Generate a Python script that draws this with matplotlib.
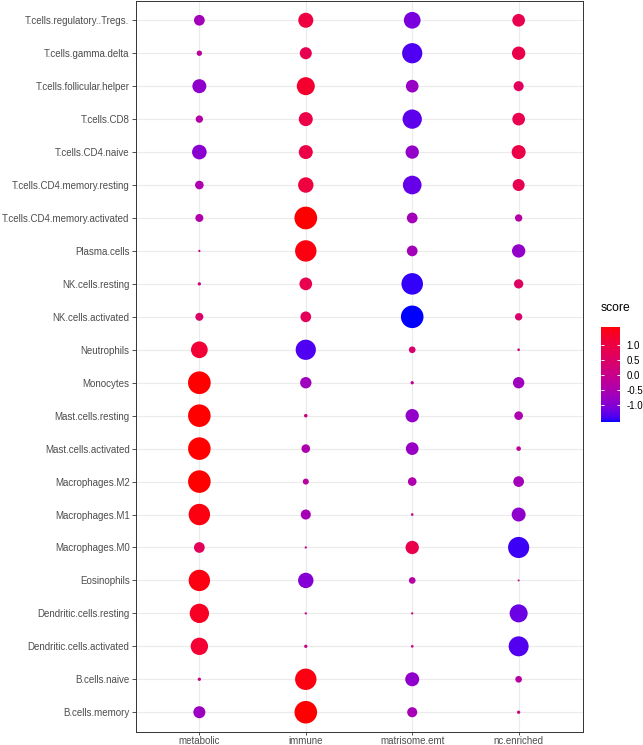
import numpy as np
import matplotlib
matplotlib.use("Agg")
import matplotlib.pyplot as plt
from matplotlib.colors import ListedColormap, Normalize

plt.rcParams['font.family'] = ['Liberation Sans', 'DejaVu Sans']

# gene set columns
signatures = ["metabolic", "immune", "matrisome.emt", "nc.enriched"]

# cell types, top row first (as shown)
cell_types = [
    "T.cells.regulatory..Tregs.", "T.cells.gamma.delta", "T.cells.follicular.helper",
    "T.cells.CD8", "T.cells.CD4.naive", "T.cells.CD4.memory.resting",
    "T.cells.CD4.memory.activated", "Plasma.cells", "NK.cells.resting",
    "NK.cells.activated", "Neutrophils", "Monocytes", "Mast.cells.resting",
    "Mast.cells.activated", "Macrophages.M2", "Macrophages.M1", "Macrophages.M0",
    "Eosinophils", "Dendritic.cells.resting", "Dendritic.cells.activated",
    "B.cells.naive", "B.cells.memory",
]

# scores per signature, same row order as cell_types
metabolic = [-0.67, -0.26, -0.92, -0.41, -0.97, -0.51, -0.46, 0.02, 0.10, 0.46, 1.13,
             1.59, 1.58, 1.58, 1.58, 1.49, 0.67, 1.49, 1.33, 1.18, 0.10, -0.77]
immune = [1.00, 0.77, 1.23, 0.92, 0.92, 1.03, 1.59, 1.49, 0.82, 0.67, -1.40,
          -0.72, 0.12, -0.51, -0.31, -0.62, 0.02, -1.03, 0.02, 0.10, 1.49, 1.58]
matrisome_emt = [-1.13, -1.40, -0.82, -1.33, -0.87, -1.28, -0.67, -0.67, -1.50, -1.58, 0.36,
                 -0.10, -0.87, -0.82, -0.51, -0.05, 0.87, -0.36, 0.02, 0.05, -0.92, -0.62]
nc_enriched = [0.82, 0.87, 0.62, 0.82, 0.92, 0.77, -0.41, -0.87, 0.56, 0.41, 0.05,
               -0.72, -0.51, -0.20, -0.67, -0.92, -1.47, 0.00, -1.23, -1.38, -0.36, 0.10]

columns = [metabolic, immune, matrisome_emt, nc_enriched]


def srgb_to_lab(rgb):
    rgb = np.asarray(rgb, float)
    lin = np.where(rgb <= 0.04045, rgb / 12.92, ((rgb + 0.055) / 1.055) ** 2.4)
    m = np.array([[0.4124, 0.3576, 0.1805],
                  [0.2126, 0.7152, 0.0722],
                  [0.0193, 0.1192, 0.9505]])
    xyz = m @ lin / np.array([0.95047, 1.0, 1.08883])
    f = np.where(xyz > 0.008856, np.cbrt(xyz), 7.787 * xyz + 16 / 116)
    return np.array([116 * f[1] - 16, 500 * (f[0] - f[1]), 200 * (f[1] - f[2])])


def lab_to_srgb(lab):
    L, a, b = lab
    fy = (L + 16) / 116
    f = np.array([fy + a / 500, fy, fy - b / 200])
    xyz = np.where(f ** 3 > 0.008856, f ** 3, (f - 16 / 116) / 7.787)
    xyz = xyz * np.array([0.95047, 1.0, 1.08883])
    m = np.array([[3.2406, -1.5372, -0.4986],
                  [-0.9689, 1.8758, 0.0415],
                  [0.0557, -0.2040, 1.0570]])
    lin = np.clip(m @ xyz, 0, 1)
    rgb = np.where(lin <= 0.0031308, 12.92 * lin, 1.055 * lin ** (1 / 2.4) - 0.055)
    return np.clip(rgb, 0, 1)


# blue -> red gradient interpolated in Lab, like ggplot's scale_colour_gradient
lab_lo = srgb_to_lab([0, 0, 1])
lab_hi = srgb_to_lab([1, 0, 0])
cmap = ListedColormap([lab_to_srgb(lab_lo + t * (lab_hi - lab_lo)) for t in np.linspace(0, 1, 256)])

all_scores = np.array(columns)
norm = Normalize(vmin=all_scores.min(), vmax=all_scores.max())

W, H = 643, 745
fig = plt.figure(figsize=(W / 100, H / 100), dpi=100)
ax = fig.add_axes([135.5 / W, 13 / H, 447 / W, 731.5 / H])

n = len(cell_types)
ypos = np.arange(n)[::-1]

# point diameter grows linearly with |score|
mag = np.abs(all_scores)
d_min, d_max = 2.0 * 0.72, 22.7 * 0.72
for j, vals in enumerate(columns):
    vals = np.array(vals)
    d = d_min + (d_max - d_min) * (np.abs(vals) - mag.min()) / (mag.max() - mag.min())
    ax.scatter(np.full(n, j), ypos, s=d ** 2, c=vals, cmap=cmap, norm=norm,
               linewidths=0, zorder=3)

ax.set_xlim(-0.6, len(signatures) - 0.4)
ax.set_ylim(-0.6, n - 0.4)
ax.set_xticks(range(len(signatures)))
ax.set_xticklabels(signatures)
ax.set_yticks(ypos)
ax.set_yticklabels(cell_types)
ax.grid(True, color='#EBEBEB', linewidth=0.8, zorder=0)
ax.set_axisbelow(True)
for sp in ax.spines.values():
    sp.set_color('#333333')
    sp.set_linewidth(0.7)
ax.tick_params(axis='both', length=2.8, width=0.6, color='#333333',
               labelcolor='#4D4D4D', labelsize=7, pad=1.5)
ax.tick_params(axis='x', length=2.2, pad=0.6)

# colour bar legend
cax = fig.add_axes([601 / W, (H - 422.3) / H, 19 / W, 95 / H])
grad = np.linspace(norm.vmin, norm.vmax, 200).reshape(-1, 1)
cax.imshow(grad, cmap=cmap, norm=norm, aspect='auto', origin='lower',
           extent=[0, 1, norm.vmin, norm.vmax])
cax.set_xlim(0, 1)
cax.set_ylim(norm.vmin, norm.vmax)
bar_ticks = [-1.0, -0.5, 0.0, 0.5, 1.0]
cax.hlines(bar_ticks, 0, 0.18, color='white', linewidth=0.7)
cax.hlines(bar_ticks, 0.82, 1, color='white', linewidth=0.7)
cax.set_xticks([])
cax.yaxis.tick_right()
cax.set_yticks(bar_ticks)
cax.set_yticklabels([f"{t:.1f}" for t in bar_ticks])
cax.tick_params(axis='y', length=0, pad=4.5, labelsize=7, labelcolor='black')
for sp in cax.spines.values():
    sp.set_visible(False)
fig.text(601 / W, 1 - 308 / H, "score", ha='left', va='center', fontsize=8.7)

fig.savefig("out.png", dpi=100)
